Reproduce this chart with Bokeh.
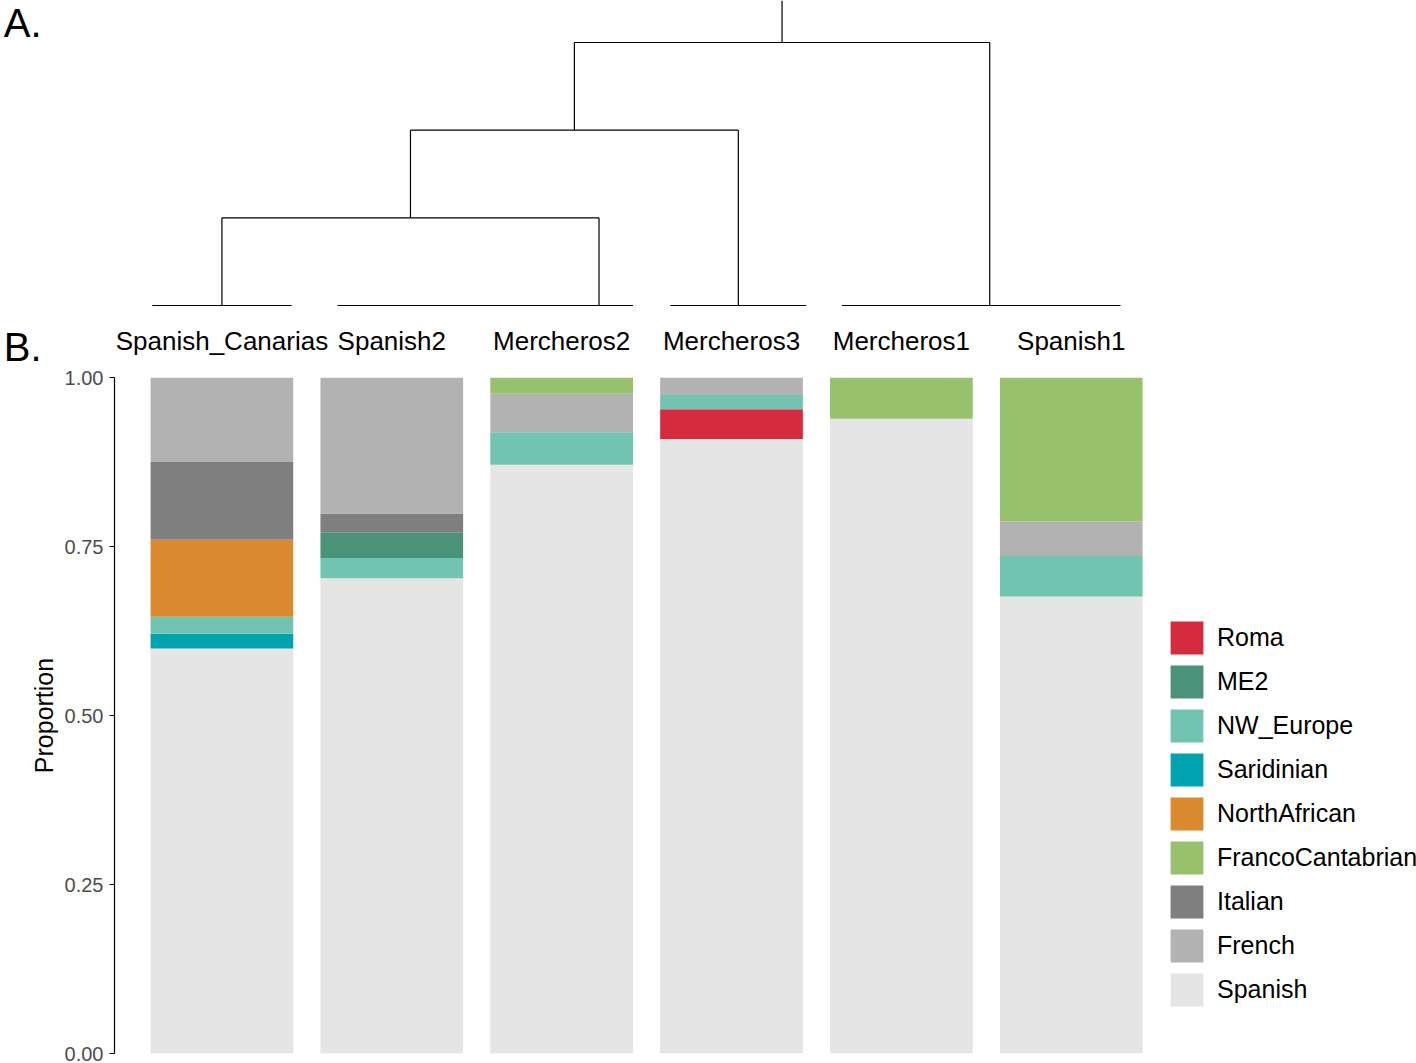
from bokeh.plotting import figure
from bokeh.layouts import column
from bokeh.models import Range1d, FixedTicker, Legend, LegendItem, ColumnDataSource
from bokeh.core.properties import value
from bokeh.embed import file_html
from bokeh.resources import INLINE

FONT = "Liberation Sans"

# ---------------- data ----------------
samples = ["Spanish_Canarias", "Spanish2", "Mercheros2", "Mercheros3", "Mercheros1", "Spanish1"]

# stacking order (bottom -> top)
components = ["Spanish", "Roma", "Saridinian", "NW_Europe", "ME2",
              "NorthAfrican", "Italian", "French", "FrancoCantabrian"]
legend_order = ["Roma", "ME2", "NW_Europe", "Saridinian", "NorthAfrican",
                "FrancoCantabrian", "Italian", "French", "Spanish"]

Spanish          = [0.599, 0.703, 0.871, 0.909, 0.939, 0.676]
Roma             = [0.000, 0.000, 0.000, 0.044, 0.000, 0.000]
Saridinian       = [0.022, 0.000, 0.000, 0.000, 0.000, 0.000]
NW_Europe        = [0.025, 0.030, 0.048, 0.021, 0.000, 0.060]
ME2              = [0.000, 0.038, 0.000, 0.000, 0.000, 0.000]
NorthAfrican     = [0.114, 0.000, 0.000, 0.000, 0.000, 0.000]
Italian          = [0.115, 0.028, 0.000, 0.000, 0.000, 0.000]
French           = [0.125, 0.201, 0.057, 0.026, 0.000, 0.051]
FrancoCantabrian = [0.000, 0.000, 0.024, 0.000, 0.061, 0.213]

colors = {
    "Roma": "#D62B3F",
    "ME2": "#4A927A",
    "NW_Europe": "#71C4B1",
    "Saridinian": "#00A3AF",
    "NorthAfrican": "#DB8A2F",
    "FrancoCantabrian": "#97C26B",
    "Italian": "#7F7F7F",
    "French": "#B2B2B2",
    "Spanish": "#E5E5E5",
}

y_ticks = [0.0, 0.25, 0.5, 0.75, 1.0]
y_tick_labels = ["0.00", "0.25", "0.50", "0.75", "1.00"]

panel_tags = ["A.", "B."]

# dendrogram (x in bar-position units, height in merge steps)
dendro_leaf_x = [1.00, 3.22, 4.04, 5.52]
dendro_leaf_left = [0.59, 1.68, 3.64, 4.65]
dendro_leaf_right = [1.41, 3.42, 4.44, 6.29]
dendro_merge_heights = [1.0, 2.0, 3.0]
dendro_root_top = 3.48

xpos = list(range(1, len(samples) + 1))
x_range = Range1d(0.36765, 8.0324)

# ---------------- top: dendrogram + sample names ----------------
top = figure(width=1416, height=368, x_range=x_range, y_range=Range1d(-0.7186, 3.479),
             output_backend="svg", toolbar_location=None,
             x_axis_location=None, y_axis_location="left",
             min_border_left=113, min_border_right=0, min_border_top=0, min_border_bottom=0)
top.grid.visible = False
top.outline_line_color = None

x0, y0, x1, y1 = [], [], [], []
for l, r in zip(dendro_leaf_left, dendro_leaf_right):
    x0.append(l); y0.append(0.0); x1.append(r); y1.append(0.0)
cur_x, cur_h = dendro_leaf_x[0], 0.0
for i, h in enumerate(dendro_merge_heights):
    ox = dendro_leaf_x[i + 1]
    x0 += [cur_x, ox, cur_x]; y0 += [cur_h, 0.0, h]
    x1 += [cur_x, ox, ox];    y1 += [h, h, h]
    cur_x, cur_h = (cur_x + ox) / 2.0, h
x0.append(cur_x); y0.append(cur_h); x1.append(cur_x); y1.append(dendro_root_top)
top.segment(x0=x0, y0=y0, x1=x1, y1=y1, line_color="black", line_width=1.2)

top.text(x=xpos, y=[-0.40] * len(samples), text=samples,
         text_font=value(FONT), text_font_size="26px", text_color="black",
         text_align="center", text_baseline="middle")

# panel tags "A." / "B." as labels of an invisible left axis
tag_pos = [3.28, -0.62]
ta = top.yaxis[0]
ta.ticker = FixedTicker(ticks=tag_pos)
ta.major_label_overrides = {t: s for t, s in zip(tag_pos, panel_tags)}
ta.axis_line_color = None
ta.major_tick_line_color = None
ta.major_tick_out = 0
ta.major_tick_in = 0
ta.minor_tick_line_color = None
ta.minor_tick_out = 0
ta.major_label_standoff = 73
ta.major_label_text_font = FONT
ta.major_label_text_font_size = "40px"
ta.major_label_text_color = "black"

# ---------------- bottom: stacked bars ----------------
data = {"x": xpos}
for c in components:
    data[c] = globals()[c]
source = ColumnDataSource(data)

p = figure(width=1416, height=695, x_range=x_range, y_range=Range1d(0, 1),
           output_backend="svg", toolbar_location=None, x_axis_location=None,
           min_border_left=113, min_border_right=0, min_border_top=9, min_border_bottom=10)
p.grid.visible = False
p.outline_line_color = None

rends = p.vbar_stack(components, x="x", width=0.84, source=source,
                     fill_color=[colors[c] for c in components], line_color=None)

ya = p.yaxis[0]
ya.ticker = FixedTicker(ticks=y_ticks)
ya.major_label_overrides = {t: l for t, l in zip(y_ticks, y_tick_labels)}
ya.bounds = (0, 1)
ya.axis_line_color = "black"
ya.axis_line_width = 1.2
ya.major_tick_line_color = "black"
ya.major_tick_out = 5
ya.major_tick_in = 0
ya.minor_tick_line_color = None
ya.major_label_text_font = FONT
ya.major_label_text_font_size = "20px"
ya.major_label_text_color = "#4D4D4D"
ya.major_label_standoff = 6
ya.axis_label = "Proportion"
ya.axis_label_text_font = FONT
ya.axis_label_text_font_size = "25px"
ya.axis_label_text_font_style = "normal"
ya.axis_label_text_color = "black"
ya.axis_label_standoff = 4

rmap = dict(zip(components, rends))
items = [LegendItem(label=value(c), renderers=[rmap[c]]) for c in legend_order]
legend = Legend(items=items, location=(1052, 43.5), orientation="vertical",
                glyph_width=41, glyph_height=41, label_height=41, label_standoff=10,
                spacing=3, padding=0, margin=0,
                label_text_font=FONT, label_text_font_size="25px", label_text_color="black",
                border_line_color=None, background_fill_alpha=0)
p.add_layout(legend)

layout = column(top, p, spacing=0)
open("out.html", "w").write(file_html(layout, INLINE))
